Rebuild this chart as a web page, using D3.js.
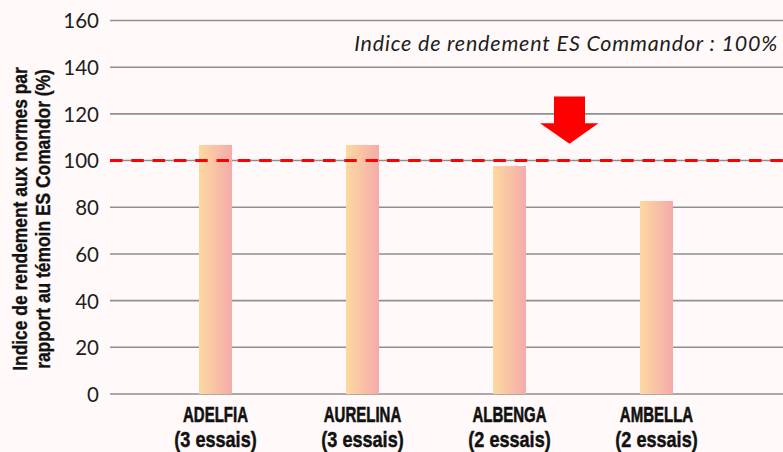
<!DOCTYPE html>
<html><head><meta charset="utf-8">
<script src="https://cdn.jsdelivr.net/npm/d3@7"></script>
<style>
html,body{margin:0;padding:0;background:#fffaf9;}
svg{display:block;}
</style></head>
<body><svg id="chart" width="783" height="452"></svg>
<script>
const categories = ["ADELFIA", "AURELINA", "ALBENGA", "AMBELLA"];
const trials = ["(3 essais)", "(3 essais)", "(2 essais)", "(2 essais)"];
const values = [106.7, 106.7, 97.7, 82.7];
const yTicks = [0, 20, 40, 60, 80, 100, 120, 140, 160];
const referenceValue = 100;
const annotation = "Indice de rendement ES Commandor : 100%";
const yTitle = ["Indice de rendement aux normes par", "rapport au témoin ES Comandor (%)"];

const svg = d3.select("#chart");
const W = 783, H = 452;
svg.append("rect").attr("width", W).attr("height", H).attr("fill", "#fffaf9");

const y = d3.scaleLinear().domain([0, 160]).range([394, 20.5]);
const x = d3.scaleBand().domain(categories).range([142, 730]).paddingInner(0.775).paddingOuter(0.3875);

const defs = svg.append("defs");
const grad = defs.append("linearGradient").attr("id", "barGrad").attr("x1", "0").attr("x2", "1").attr("y1", "0").attr("y2", "0");
grad.append("stop").attr("offset", "0%").attr("stop-color", "#fdd9a0");
grad.append("stop").attr("offset", "100%").attr("stop-color", "#f4abab");

// y axis labels
const yAxis = d3.axisLeft(y).tickValues(yTicks).tickSize(0).tickPadding(0).tickFormat(d3.format("d"));
const gAxis = svg.append("g").attr("transform", "translate(99,0)").call(yAxis);
gAxis.select(".domain").remove();
gAxis.selectAll("text").attr("font-family", "Lato, 'Open Sans', sans-serif").attr("font-size", 20.5).attr("fill", "#1e1e1e").attr("dy", "0.36em");

// grid
svg.append("g").selectAll("line").data(yTicks).join("line")
  .attr("x1", 110).attr("x2", W).attr("y1", d => y(d)).attr("y2", d => y(d))
  .attr("stroke", "#8f8f8f").attr("stroke-width", 1.6);

// bars
const bw = 33;
svg.append("g").selectAll("rect").data(values).join("rect")
  .attr("x", (d, i) => x(categories[i]) + x.bandwidth() / 2 - bw / 2)
  .attr("width", bw)
  .attr("y", d => y(d))
  .attr("height", d => y(0) - y(d))
  .attr("fill", "url(#barGrad)");

// reference line
svg.append("line").attr("x1", 110).attr("x2", W).attr("y1", y(referenceValue)).attr("y2", y(referenceValue))
  .attr("stroke", "#ff0000").attr("stroke-width", 3).attr("stroke-dasharray", "12.5,8.8");

// arrow
const ax = x("ALBENGA") + x.bandwidth() / 2 + 60;
const yTop = y(127.4), yNeck = y(116), yTip = y(107.2);
const arrow = [[ax - 15.5, yTop], [ax + 15.5, yTop], [ax + 15.5, yNeck], [ax + 29, yNeck], [ax, yTip], [ax - 29.5, yNeck], [ax - 15.5, yNeck]];
svg.append("path").attr("d", d3.line()(arrow) + "Z").attr("fill", "#ff0000");

// annotation
svg.append("text").attr("x", 778).attr("y", 51).attr("text-anchor", "end")
  .attr("font-family", "Lato, sans-serif").attr("font-style", "italic").attr("font-size", 21.5)
  .attr("letter-spacing", 0.8)
  .attr("fill", "#1e1e1e").text(annotation);

// condensed bold text (horizontal squeeze of a bold sans)
const cond = "'Liberation Sans', Arial, sans-serif";
function measure(str, size) {
  const t = svg.append("text").attr("font-family", cond).attr("font-weight", "bold").attr("font-size", size).text(str);
  const w = t.node().getComputedTextLength();
  t.remove();
  return w;
}
function condText(g, str, px, py, size, s, sw) {
  return g.append("text").attr("text-anchor", "middle")
    .attr("transform", `translate(${px},${py}) scale(${s},1)`)
    .attr("font-family", cond).attr("font-weight", "bold").attr("font-size", size)
    .attr("fill", "#111").attr("stroke", "#111").attr("stroke-width", sw).text(str);
}

// category labels
const catSize = 22;
const s1 = 65 / measure(categories[0], catSize);
const s2 = 82.5 / measure(trials[0], catSize);
const gl = svg.append("g");
categories.forEach((c, i) => {
  const cx = x(c) + x.bandwidth() / 2;
  condText(gl, c, cx, 421.7, catSize, s1, 0.6);
  condText(gl, trials[i], cx, 446.5, catSize, s2, 0.45);
});

// y title
const gt = svg.append("g").attr("transform", "translate(0,219) rotate(-90)");
const st = 304 / measure(yTitle[0], 19.5);
condText(gt, yTitle[0], 0, 26.5, 19.5, st, 0.35);
condText(gt, yTitle[1], 0, 49.8, 19.5, st, 0.35);
</script></body></html>
